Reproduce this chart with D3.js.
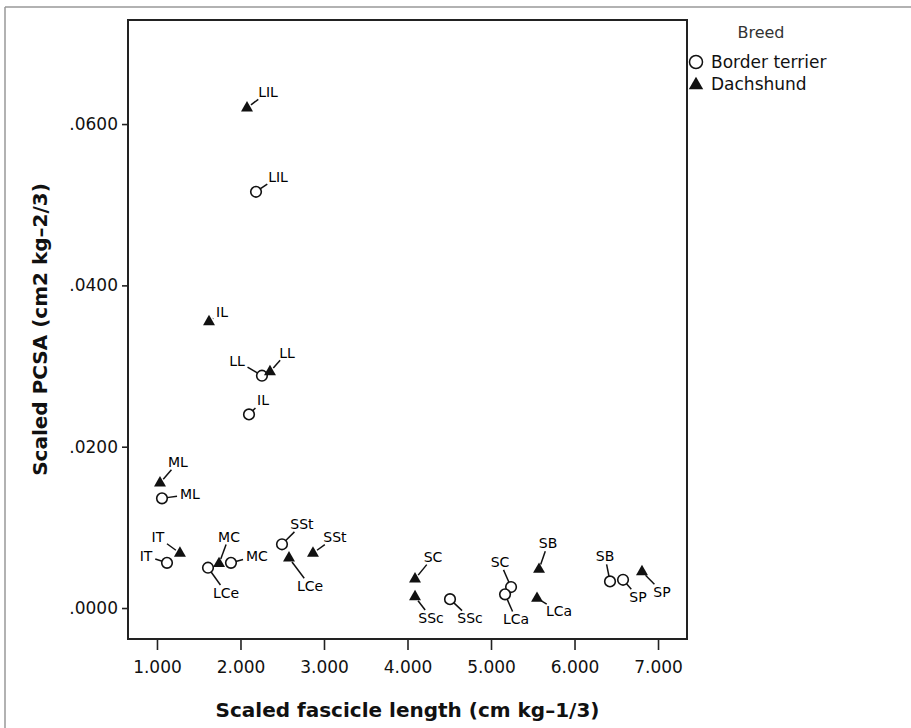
<!DOCTYPE html>
<html>
<head>
<meta charset="utf-8">
<script src="https://cdn.jsdelivr.net/npm/d3@7"></script>
<style>
  body { margin: 0; background: #fff; }
  text { font-family: "DejaVu Sans", sans-serif; }
</style>
</head>
<body>
<script>
// muscle labels, same order for both breeds
var muscles = ["LIL", "IL", "LL", "ML", "IT", "MC", "LCe", "SSt", "SC", "SSc", "SB", "LCa", "SP"];

// scaled fascicle length and scaled PCSA
var dachsLength = [2.078, 1.623, 2.353, 1.036, 1.275, 1.743, 2.581, 2.868, 4.090, 4.090, 5.575, 5.551, 6.808];
var dachsPcsa   = [0.0620, 0.0355, 0.0293, 0.0155, 0.0068, 0.0055, 0.0062, 0.0068, 0.0036, 0.0014, 0.0048, 0.0012, 0.0045];

var borderLength = [2.186, 2.102, 2.257, 1.060, 1.120, 1.886, 1.611, 2.497, 5.240, 4.509, 6.425, 5.168, 6.581];
var borderPcsa   = [0.0516, 0.0240, 0.0288, 0.0136, 0.0056, 0.0056, 0.0050, 0.0079, 0.0026, 0.0011, 0.0033, 0.0017, 0.0035];

var xTicks = [1, 2, 3, 4, 5, 6, 7];
var yTicks = [0, 0.02, 0.04, 0.06];
var breeds = ["Border terrier", "Dachshund"];

// where each point label sits relative to its marker (px)
var dachsLabelOff = [[21,-16],[13,-10],[17,-19],[18,-21],[-22,-16],[10,-27],[21,28],[22,-16],[18,-22],[16,21],[9,-26],[22,13],[20,20]];
var borderLabelOff = [[22,-15],[14,-14],[-25,-15],[28,-4],[-21,-7],[26,-7],[18,25],[20,-20],[-11,-25],[20,19],[-5,-25],[11,25],[15,17]];

var width = 911, height = 728;
var boxL = 128, boxT = 20, boxR = 687, boxB = 639;

var svg = d3.select("body").append("svg")
    .attr("width", width)
    .attr("height", height);

// thin page frame (top + left only)
svg.append("line").attr("x1", 5).attr("x2", width).attr("y1", 7).attr("y2", 7)
    .attr("stroke", "#999").attr("stroke-width", 1.5);
svg.append("line").attr("x1", 5).attr("x2", 5).attr("y1", 7).attr("y2", height)
    .attr("stroke", "#999").attr("stroke-width", 1.5);

var x = d3.scaleLinear().domain([0.653, 7.347]).range([boxL, boxR]);
var y = d3.scaleLinear().domain([-0.00384, 0.0729]).range([boxB, boxT]);

var xAxis = svg.append("g")
    .attr("transform", "translate(0," + boxB + ")")
    .call(d3.axisBottom(x).tickValues(xTicks).tickSize(11).tickPadding(11).tickFormat(d3.format(".3f")));
var yAxis = svg.append("g")
    .attr("transform", "translate(" + boxL + ",0)")
    .call(d3.axisLeft(y).tickValues(yTicks).tickSize(6).tickPadding(4)
        .tickFormat(function(d){ return d3.format(".4f")(d).replace(/^0/, ""); }));

[xAxis, yAxis].forEach(function(a){
  a.select(".domain").remove();
  a.selectAll("line").attr("stroke", "#222").attr("stroke-width", 1.6);
  a.selectAll("text").attr("font-size", 17).attr("fill", "#111")
    .style("font-family", "'DejaVu Sans', sans-serif");
});

svg.append("rect")
    .attr("x", boxL).attr("y", boxT)
    .attr("width", boxR - boxL).attr("height", boxB - boxT)
    .attr("fill", "none").attr("stroke", "#222").attr("stroke-width", 2);

// axis titles
svg.append("text")
    .attr("x", (boxL + boxR) / 2).attr("y", 717)
    .attr("text-anchor", "middle").attr("font-size", 20).attr("font-weight", "bold")
    .attr("fill", "#111")
    .text("Scaled fascicle length (cm kg\u20131/3)");

svg.append("text")
    .attr("transform", "translate(47," + ((boxT + boxB) / 2) + ") rotate(-90)")
    .attr("text-anchor", "middle").attr("font-size", 20).attr("font-weight", "bold")
    .attr("fill", "#111")
    .text("Scaled PCSA (cm2 kg\u20132/3)");

var points = [];
muscles.forEach(function(m, i){
  points.push({name: m, breed: 0, fx: borderLength[i], fy: borderPcsa[i], off: borderLabelOff[i]});
});
muscles.forEach(function(m, i){
  points.push({name: m, breed: 1, fx: dachsLength[i], fy: dachsPcsa[i], off: dachsLabelOff[i]});
});

var tri = d3.symbol().type(d3.symbolTriangle).size(62);

var g = svg.append("g");

points.forEach(function(p){
  var mx = x(p.fx), my = y(p.fy);
  var lx = mx + p.off[0], ly = my + p.off[1];

  var t = g.append("text")
      .attr("x", lx).attr("y", ly).attr("dy", "0.36em")
      .attr("text-anchor", "middle").attr("font-size", 14).attr("fill", "#000")
      .text(p.name);

  // leader line from marker to the edge of the label box
  var hw = t.node().getComputedTextLength() / 2 + 1.5, hh = 6.5;
  var dx = lx - mx, dy = ly - my, d = Math.sqrt(dx * dx + dy * dy);
  var ux = dx / d, uy = dy / d;
  var tb = Math.min(Math.abs(ux) > 1e-6 ? hw / Math.abs(ux) : 1e9, Math.abs(uy) > 1e-6 ? hh / Math.abs(uy) : 1e9);
  var s = 5, e = d - tb - 1.5;
  if (e > s) {
    g.append("line")
      .attr("x1", mx + ux * s).attr("y1", my + uy * s)
      .attr("x2", mx + ux * e).attr("y2", my + uy * e)
      .attr("stroke", "#111").attr("stroke-width", 1.5);
  }
});

points.forEach(function(p){
  var mx = x(p.fx), my = y(p.fy);
  if (p.breed == 0) {
    g.append("circle").attr("cx", mx).attr("cy", my).attr("r", 5.3)
      .attr("fill", "#fff").attr("stroke", "#111").attr("stroke-width", 1.6);
  } else {
    g.append("path").attr("d", tri)
      .attr("transform", "translate(" + mx + "," + my + ")")
      .attr("fill", "#111");
  }
});

// legend
var legend = svg.append("g");
legend.append("text").attr("x", 761).attr("y", 38)
    .attr("text-anchor", "middle").attr("font-size", 16).attr("fill", "#333")
    .text("Breed");

breeds.forEach(function(b, i){
  var ly = 62 + i * 22;
  if (i == 0) {
    legend.append("circle").attr("cx", 696).attr("cy", ly).attr("r", 6.5)
      .attr("fill", "#fff").attr("stroke", "#111").attr("stroke-width", 1.5);
  } else {
    legend.append("path").attr("d", d3.symbol().type(d3.symbolTriangle).size(90))
      .attr("transform", "translate(696," + (ly + 1) + ")").attr("fill", "#111");
  }
  legend.append("text").attr("x", 711).attr("y", ly).attr("dy", "0.36em")
    .attr("font-size", 17).attr("fill", "#111")
    .text(b);
});
</script>
</body>
</html>
